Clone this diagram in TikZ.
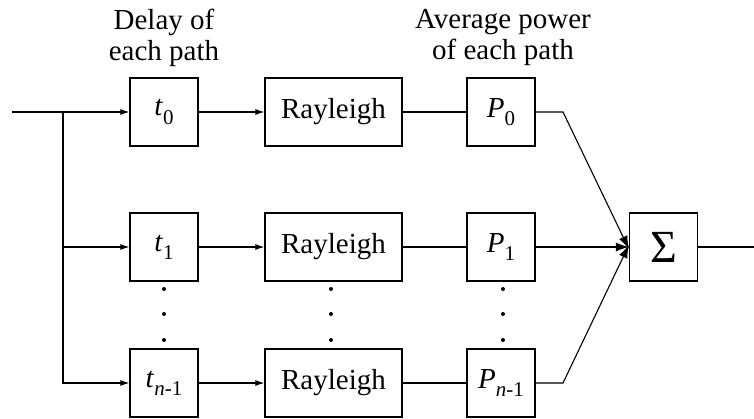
\documentclass[tikz,border=0pt]{standalone}
\usepackage{fontspec}
\setmainfont{Liberation Serif}
\usetikzlibrary{arrows.meta}
\newcommand{\vsub}[2]{\textit{#1}\raisebox{-0.28em}{\fontsize{21}{21}\selectfont #2}}
\begin{document}
\begin{tikzpicture}[x=1pt,y=-1pt,
  blk/.style={draw, line width=1.2pt, minimum height=68pt, inner sep=0pt, font=\fontsize{29}{34}\selectfont},
  sq/.style={blk, minimum width=68pt},
  wide/.style={blk, minimum width=137pt},
  wire/.style={line width=1.1pt},
  arr/.style={wire, -{Latex[length=9pt,width=6pt]}},
  bigarr/.style={wire, -{Latex[length=13pt,width=9pt]}},
  lbl/.style={align=center, font=\fontsize{29}{31}\selectfont},
  dot/.style={circle, fill, inner sep=0pt, minimum size=4pt}]
\useasboundingbox (0,0) rectangle (754,419);
% rows
\node[sq] (t0) at (164,112) {\vsub{t}{0}};
\node[sq] (t1) at (164,247) {\vsub{t}{1}};
\node[sq] (tn) at (164,383) {\textit{t}\raisebox{-0.28em}{\fontsize{21}{21}\selectfont\textit{n}-1}};
\node[wide] (r0) at (333.5,112) {Rayleigh};
\node[wide] (r1) at (333.5,247) {Rayleigh};
\node[wide] (rn) at (333.5,383) {Rayleigh};
\node[sq] (p0) at (501,112) {\vsub{P}{0}};
\node[sq] (p1) at (501,247) {\vsub{P}{1}};
\node[sq] (pn) at (501,383) {\textit{P}\raisebox{-0.28em}{\fontsize{21}{21}\selectfont\textit{n}-1}};
\node[sq] (sum) at (663.5,247) {\fontsize{46}{46}\selectfont Σ};
% labels
\node[lbl] (l1) at (164,38) {Delay of\\each path};
\node[lbl] (l2) at (503,38) {Average power\\of each path};
% dots
\foreach \x/\n in {164/a,331/b,503/c}{
  \node[dot] (d1\n) at (\x,289) {};
  \node[dot] (d2\n) at (\x,314) {};
  \node[dot] (d3\n) at (\x,340) {};
}
% coordinates
\coordinate (in) at (12,112);
\coordinate (br) at (63,112);
\coordinate (out) at (754,247);
\coordinate (k0) at (563,112);
\coordinate (kn) at (563,383);
% wires
\draw[arr] (in) -- (t0);
\draw[arr] (br) |- (t1);
\draw[arr] (br) |- (tn);
\draw[arr] (t0) -- (r0);
\draw[arr] (t1) -- (r1);
\draw[arr] (tn) -- (rn);
\draw[wire] (r0) -- (p0);
\draw[wire] (r1) -- (p1);
\draw[wire] (rn) -- (pn);
\draw[bigarr] (p0.east) -- (k0) -- ([yshift=-2pt]sum.west);
\draw[bigarr] (p1) -- (sum);
\draw[bigarr] (pn.east) -- (kn) -- ([yshift=2pt]sum.west);
\draw[wire] (sum) -- (out);
\end{tikzpicture}
\end{document}
